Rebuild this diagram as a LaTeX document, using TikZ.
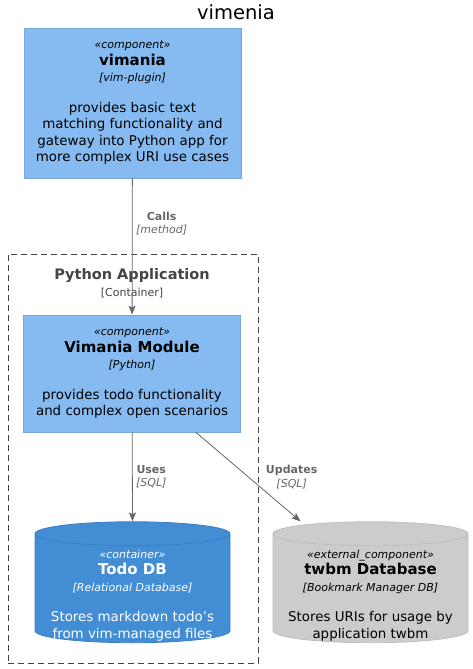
\documentclass[tikz,border=0pt]{standalone}
\usepackage{fontspec}
\setmainfont{DejaVu Sans}
\usetikzlibrary{shapes.geometric,arrows.meta,positioning}
\definecolor{compfill}{HTML}{85BBF0}
\definecolor{compline}{HTML}{78A8D8}
\definecolor{contfill}{HTML}{438DD5}
\definecolor{contline}{HTML}{3C7FC0}
\definecolor{extfill}{HTML}{CCCCCC}
\definecolor{extline}{HTML}{BFBFBF}
\definecolor{relgray}{HTML}{666666}
\definecolor{bndgray}{HTML}{444444}
\newcommand\stereo[1]{{\fontsize{11}{16.5}\selectfont\itshape #1}}
\newcommand\elname[1]{{\fontsize{15}{16.5}\selectfont\bfseries #1}}
\newcommand\techtxt[1]{{\fontsize{11}{16.5}\selectfont\itshape #1}}
\tikzset{
  compbox/.style={draw=compline, fill=compfill, line width=0.8pt, minimum width=217pt, align=center, font=\fontsize{13.4}{16.5}\selectfont},
  dbcyl/.style={cylinder, shape border rotate=90, aspect=3.6, line width=0.8pt, minimum width=195pt, minimum height=121pt},
  dbtext/.style={align=center, font=\fontsize{13.4}{16.5}\selectfont},
  rel/.style={draw=relgray, line width=0.8pt, -{Stealth[length=9pt,width=7pt,inset=2pt]}},
  rellabel/.style={text=relgray, align=center, anchor=west, font=\fontsize{11}{13.5}\selectfont},
  boundary/.style={draw=bndgray, line width=0.8pt, dash pattern=on 6pt off 4pt, minimum width=250pt, minimum height=409pt}
}
\begin{document}
\begin{tikzpicture}[x=1pt,y=1pt]
  \useasboundingbox (0,0) rectangle (473,-669);
  \node[font=\fontsize{19.5}{22}\selectfont] (title) at (236,-12) {vimenia};
  \node[boundary] (pyapp) at (133,-458.5) {};
  \node[text=bndgray, font=\fontsize{14.5}{16}\selectfont\bfseries] (pyname) at (132,-276) {Python Application};
  \node[text=bndgray, font=\fontsize{11}{13}\selectfont] (pytype) at (132,-293) {[Container]};
  \node[compbox, minimum height=150pt] (vimania) at (132.5,-103) {\stereo{«component»}\\ \elname{vimania}\\ \techtxt{[vim-plugin]}\\[14pt] provides basic text\\ matching functionality and\\ gateway into Python app for\\ more complex URI use cases};
  \node[compbox, minimum height=117pt] (module) at (132,-373.5) {\stereo{«component»}\\ \elname{Vimania Module}\\ \techtxt{[Python]}\\[14pt] provides todo functionality\\ and complex open scenarios};
  \node[dbcyl, draw=contline, fill=contfill] (tododb) at (132.5,-590) {};
  \node[dbtext, text=white] (tododbtext) at ([yshift=-5.5pt]tododb.center) {\stereo{«container»}\\ \elname{Todo DB}\\ \techtxt{[Relational Database]}\\[14pt] Stores markdown todo's\\ from vim-managed files};
  \node[dbcyl, draw=extline, fill=extfill] (twbm) at (370.5,-590) {};
  \node[dbtext] (twbmtext) at ([yshift=-5.5pt]twbm.center) {\stereo{«external\_component»}\\ \elname{twbm Database}\\ \techtxt{[Bookmark Manager DB]}\\[14pt] Stores URIs for usage by\\ application twbm};
  \draw[rel] (vimania) -- node[rellabel, pos=0.33] {\textbf{Calls}\\ \textit{[method]}} (module);
  \draw[rel] (module) -- node[rellabel, pos=0.5] {\textbf{Uses}\\ \textit{[SQL]}} (tododb.north);
  \draw[rel] ([xshift=64pt]module.south) -- node[rellabel, pos=0.5, xshift=14pt] {\textbf{Updates}\\ \textit{[SQL]}} ([xshift=-70pt]twbm.north);
\end{tikzpicture}
\end{document}
